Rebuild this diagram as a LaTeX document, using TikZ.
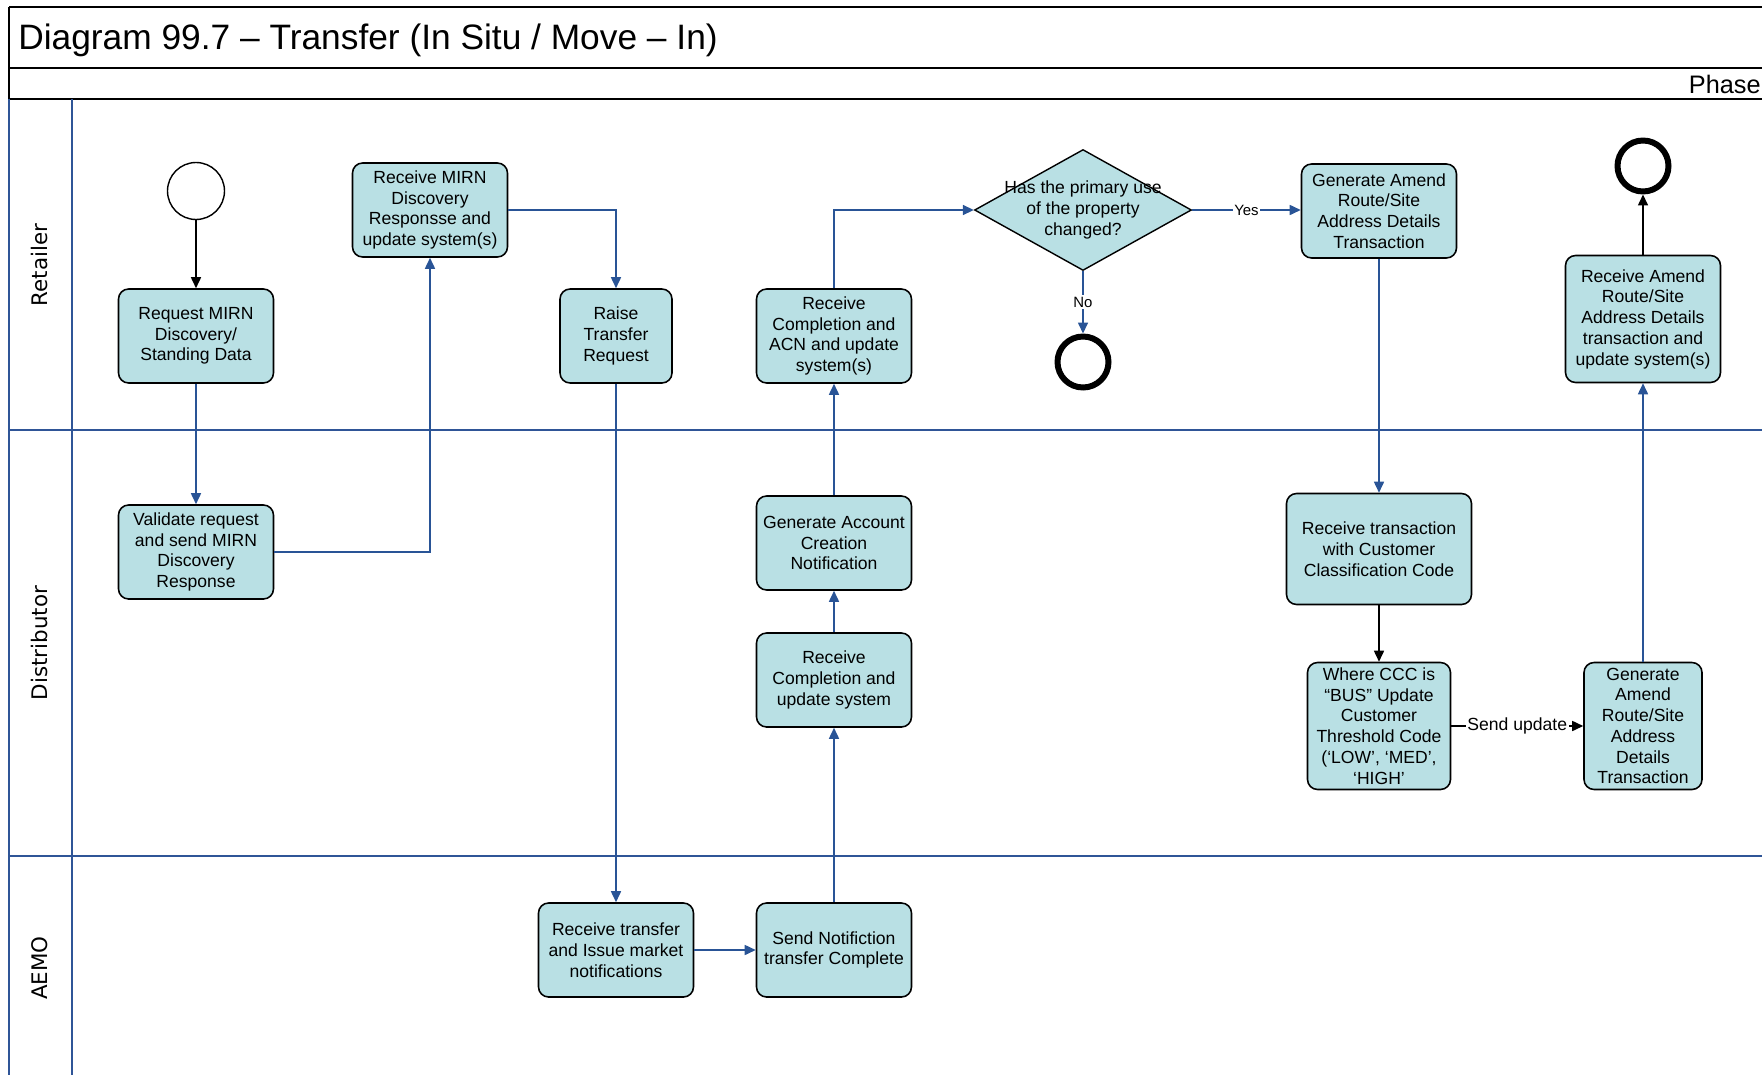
\documentclass[tikz,border=0pt]{standalone}
\usepackage{fontspec}
\setmainfont{Liberation Sans}
\newfontfamily\lanefont{DejaVu Sans}
\usetikzlibrary{arrows.meta}
\usetikzlibrary{shapes.geometric}
\definecolor{taskfill}{RGB}{185,224,228}
\definecolor{flowblue}{RGB}{41,84,150}
\definecolor{laneblue}{RGB}{47,85,151}

\begin{document}
\begin{tikzpicture}[x=0.02cm,y=-0.02cm,
    task/.style={draw=black,line width=0.9pt,fill=taskfill,rounded corners=0.2cm,align=center,
        minimum width=3.1cm,minimum height=1.88cm,inner sep=1pt,font=\fontsize{10}{11.8}\selectfont},
    decision/.style={draw=black,line width=0.8pt,fill=taskfill,diamond,inner sep=0pt,
        minimum width=4.34cm,minimum height=2.42cm},
    startev/.style={draw=black,line width=0.8pt,circle,fill=white,minimum size=1.14cm,inner sep=0pt},
    endev/.style={draw=black,line width=3.4pt,circle,fill=white,minimum size=1.02cm,inner sep=0pt},
    flow/.style={draw=flowblue,line width=0.9pt,-{Triangle[length=0.22cm,width=0.2cm]}},
    msg/.style={draw=black,line width=0.9pt,-{Triangle[length=0.22cm,width=0.2cm]}},
    lane/.style={draw=laneblue,line width=1.2pt},
    lbl/.style={fill=white,inner sep=1pt}]
        \useasboundingbox (0,0) rectangle (1762,1075);
        % frame
        \draw[line width=1.2pt] (9,7) -- (1762,7);
        \draw[line width=1.2pt] (9,68) -- (1762,68);
        \draw[line width=1.2pt] (9,99) -- (1762,99);
        \draw[line width=1.2pt] (9,7) -- (9,99);
        \node[anchor=west,inner sep=0pt,font=\fontsize{20.1}{24}\selectfont] (title) at (18,40) {Diagram 99.7 – Transfer (In Situ / Move – In)};
        \node[anchor=east,inner sep=0pt,font=\fontsize{14.4}{17}\selectfont] (phase) at (1761,84) {Phase};
        % lanes
        \draw[lane] (9,99) -- (9,1075);
        \draw[lane] (72,99) -- (72,1075);
        \draw[lane] (9,430) -- (1762,430);
        \draw[lane] (9,856) -- (1762,856);
        \node[rotate=90,font=\lanefont\fontsize{12.2}{14}\selectfont] (lretail) at (40,265) {Retailer};
        \node[rotate=90,font=\lanefont\fontsize{12.2}{14}\selectfont] (ldistr) at (40,643) {Distributor};
        \node[rotate=90,font=\lanefont\fontsize{12.2}{14}\selectfont] (laemo) at (40,968) {AEMO};
        % retailer
        \node[startev] (start) at (196,191) {};
        \node[task] (reqmirn) at (196,336) {Request MIRN\\Discovery/\\Standing Data};
        \node[task] (rcvmirn) at (430,210) {Receive MIRN\\Discovery\\Responsse and\\update system(s)};
        \node[task,minimum width=2.24cm] (raise) at (616,336) {Raise\\Transfer\\Request};
        \node[task] (rcvacn) at (834,336) {Receive\\Completion and\\ACN and update\\system(s)};
        \node[decision,label={[align=center,font=\fontsize{10}{11.8}\selectfont]center:Has the primary use\\of the property\\changed?}] (usechk) at (1083,210) {};
        \node[endev] (endno) at (1083,362) {};
        \node[task] (genamendr) at (1379,211) {Generate Amend\\Route/Site\\Address Details\\Transaction};
        \node[endev] (endr) at (1643,166) {};
        \node[task,minimum height=2.54cm] (rcvamendr) at (1643,319) {Receive  Amend\\Route/Site\\Address Details\\transaction and\\update system(s)};
        % distributor
        \node[task] (validate) at (196,552) {Validate request\\and send MIRN\\Discovery\\Response};
        \node[task] (genacn) at (834,543) {Generate Account\\Creation\\Notification};
        \node[task] (rcvcomp) at (834,680) {Receive\\Completion and\\update system};
        \node[task,minimum width=3.7cm,minimum height=2.22cm] (rcvccc) at (1379,549) {Receive transaction\\with Customer\\Classification Code};
        \node[task,minimum width=2.86cm,minimum height=2.54cm,inner sep=0pt] (whereccc) at (1379,726) {Where CCC is\\“BUS” Update\\Customer\\Threshold Code\\(‘LOW’, ‘MED’,\\‘HIGH’};
        \node[task,minimum width=2.36cm,minimum height=2.54cm,inner sep=0pt] (genamendd) at (1643,726) {Generate\\Amend\\Route/Site\\Address\\Details\\Transaction};
        % aemo
        \node[task] (rcvxfer) at (616,950) {Receive transfer\\and Issue market\\notifications};
        \node[task] (sendnote) at (834,950) {Send Notifiction\\transfer Complete};
        % connectors
        \draw[msg] (start) -- (reqmirn);
        \draw[flow] (reqmirn) -- (validate);
        \draw[flow] (validate.east) -| (rcvmirn.south);
        \draw[flow] (rcvmirn.east) -| (raise.north);
        \draw[flow] (raise.south) -- (raise.south |- rcvxfer.north);
        \draw[flow] (rcvxfer) -- (sendnote);
        \draw[flow] (sendnote) -- (rcvcomp);
        \draw[flow] (rcvcomp) -- (genacn);
        \draw[flow] (genacn) -- (rcvacn);
        \draw[flow] (rcvacn.north) |- (usechk.west);
        \draw[flow] (usechk.east) -- node[lbl,font=\fontsize{8.5}{10}\selectfont] {Yes} (genamendr.west |- usechk.east);
        \draw[flow] (usechk.south) -- node[lbl,font=\fontsize{8.5}{10}\selectfont] {No} (endno.north);
        \draw[flow] (genamendr) -- (rcvccc);
        \draw[msg] (rcvccc) -- (whereccc);
        \draw[msg] (whereccc) -- node[lbl,font=\fontsize{10}{12}\selectfont] {Send update} (genamendd);
        \draw[flow] (genamendd) -- (rcvamendr);
        \draw[msg] (rcvamendr) -- (endr);
    \end{tikzpicture}
\end{document}
